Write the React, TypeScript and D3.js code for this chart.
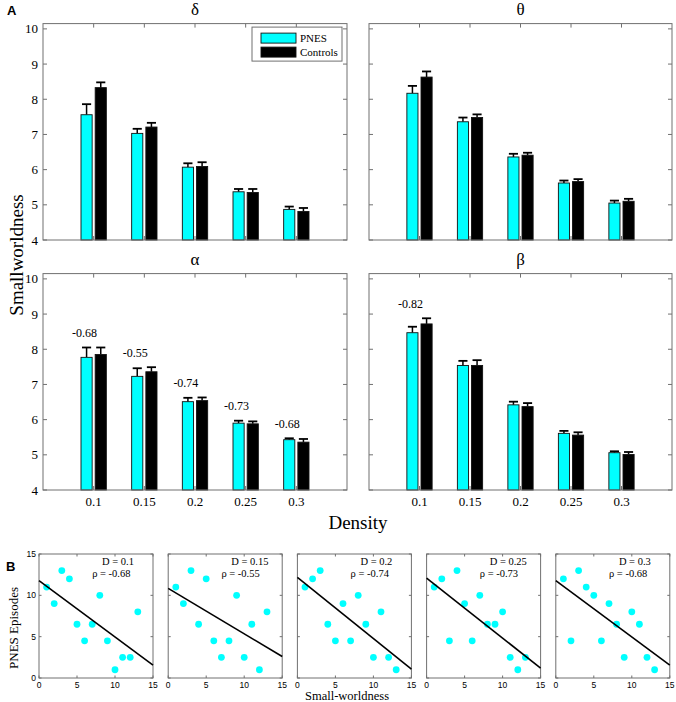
import React from 'react';
import * as d3 from 'd3';

// ---- bar chart data (panel A) ----
const bands = ['δ', 'θ', 'α', 'β'];
const densityLabels = ['0.1', '0.15', '0.2', '0.25', '0.3'];

const pnesMean = [
  [7.56, 7.03, 6.07, 5.37, 4.87],
  [8.17, 7.36, 6.36, 5.62, 5.05],
  [7.77, 7.23, 6.51, 5.9, 5.43],
  [8.47, 7.54, 6.42, 5.61, 5.06],
];
const pnesErr = [
  [0.3, 0.13, 0.11, 0.08, 0.08],
  [0.21, 0.12, 0.09, 0.07, 0.07],
  [0.28, 0.23, 0.11, 0.07, 0.04],
  [0.17, 0.13, 0.09, 0.07, 0.04],
];
const ctrlMean = [
  [8.33, 7.21, 6.09, 5.35, 4.81],
  [8.63, 7.48, 6.41, 5.66, 5.1],
  [7.85, 7.36, 6.54, 5.88, 5.36],
  [8.72, 7.54, 6.37, 5.56, 5.01],
];
const ctrlErr = [
  [0.15, 0.12, 0.12, 0.1, 0.1],
  [0.16, 0.09, 0.07, 0.07, 0.07],
  [0.2, 0.13, 0.09, 0.07, 0.09],
  [0.16, 0.15, 0.1, 0.08, 0.07],
];
const rhoLabels: (string | null)[][] = [
  [null, null, null, null, null],
  [null, null, null, null, null],
  ['-0.68', '-0.55', '-0.74', '-0.73', '-0.68'],
  ['-0.82', null, null, null, null],
];

// ---- scatter data (panel B) ----
const smallWorld = [1, 2, 3, 4, 5, 6, 7, 8, 9, 10, 11, 12, 13];
const episodes = [
  [11, 9, 13, 12, 6.5, 4.5, 6.5, 10, 4.5, 1, 2.5, 2.5, 8],
  [11, 9, 13, 6.5, 12, 4.5, 2.5, 4.5, 10, 2.5, 6.5, 1, 8],
  [11, 12, 13, 6.5, 4.5, 9, 4.5, 10, 6.5, 2.5, 8, 2.5, 1],
  [11, 12, 4.5, 13, 9, 4.5, 10, 6.5, 6.5, 8, 2.5, 1, 2.5],
  [12, 4.5, 13, 11, 10, 4.5, 9, 6.5, 2.5, 8, 6.5, 2.5, 1],
];
const densities = ['0.1', '0.15', '0.2', '0.25', '0.3'];
const rhos = ['-0.68', '-0.55', '-0.74', '-0.73', '-0.68'];
const scatterTicks = [0, 5, 10, 15];

const CYAN = '#00ffff';
const AXIS = '#707070';
const SERIF = "'Liberation Serif', 'Times New Roman', Times, 'DejaVu Serif', serif";
const SANS = "'Liberation Sans', Arial, Helvetica, sans-serif";

const serif = (size: number) => ({ fontFamily: SERIF, fontSize: size });
const sans = (size: number) => ({ fontFamily: SANS, fontSize: size });

function BarPanel({ idx, x0, x1, y0, y1, showY, showX, legend }: any) {
  const x = d3.scaleLinear().domain([0, 6]).range([x0, x1]);
  const y = d3.scaleLinear().domain([4, 10.15]).range([y1, y0]);
  const unit = x(1) - x(0);
  const bw = 0.22 * unit;
  const off = 0.14 * unit;
  const cap = 0.18 * unit;
  const groups = d3.range(1, 6);
  const yTicks = d3.range(4, 11);
  return (
    <g>
      <text x={(x0 + x1) / 2} y={y0 - 9} textAnchor="middle" style={serif(17)}>{bands[idx]}</text>
      {groups.map((g, i) => {
        const cx = x(g);
        const series = [
          { m: pnesMean[idx][i], e: pnesErr[idx][i], c: CYAN, dx: -off },
          { m: ctrlMean[idx][i], e: ctrlErr[idx][i], c: '#000', dx: off },
        ];
        return (
          <g key={g}>
            {series.map((s, j) => (
              <g key={j}>
                <line x1={cx + s.dx} x2={cx + s.dx} y1={y(s.m)} y2={y(s.m + s.e)} stroke="#000" strokeWidth={1.5} />
                <line x1={cx + s.dx - cap / 2} x2={cx + s.dx + cap / 2} y1={y(s.m + s.e)} y2={y(s.m + s.e)} stroke="#000" strokeWidth={1.8} />
                <rect x={cx + s.dx - bw / 2} y={y(s.m)} width={bw} height={y(4) - y(s.m)} fill={s.c} stroke="#111" strokeWidth={0.9} />
              </g>
            ))}
            {rhoLabels[idx][i] && (
              <text x={cx - 0.18 * unit} y={y(Math.max(pnesMean[idx][i] + pnesErr[idx][i], ctrlMean[idx][i] + ctrlErr[idx][i]) + 0.42)} dy="0.35em" textAnchor="middle" style={serif(12)}>{rhoLabels[idx][i]}</text>
            )}
          </g>
        );
      })}
      <rect x={x0} y={y0} width={x1 - x0} height={y1 - y0} fill="none" stroke={AXIS} strokeWidth={1} />
      {groups.map((g) => (
        <g key={'xt' + g}>
          <line x1={x(g)} x2={x(g)} y1={y1} y2={y1 - 4} stroke={AXIS} />
          <line x1={x(g)} x2={x(g)} y1={y0} y2={y0 + 4} stroke={AXIS} />
          {showX && (
            <text x={x(g)} y={y1 + 11} dy="0.35em" textAnchor="middle" style={serif(13)}>{densityLabels[g - 1]}</text>
          )}
        </g>
      ))}
      {yTicks.map((t) => (
        <g key={'yt' + t}>
          <line x1={x0} x2={x0 + 4} y1={y(t)} y2={y(t)} stroke={AXIS} />
          <line x1={x1} x2={x1 - 4} y1={y(t)} y2={y(t)} stroke={AXIS} />
          {showY && (
            <text x={x0 - 5} y={y(t)} dy="0.35em" textAnchor="end" style={serif(13)}>{t}</text>
          )}
        </g>
      ))}
      {legend && (
        <g>
          <rect x={x1 - 95} y={y0 + 3.5} width={90} height={34} fill="#fff" stroke={AXIS} strokeWidth={1} />
          <rect x={x1 - 86} y={y0 + 9.5} width={35} height={10} fill={CYAN} stroke="#111" strokeWidth={0.9} />
          <rect x={x1 - 86} y={y0 + 23.5} width={35} height={10} fill="#000" stroke="#111" strokeWidth={0.9} />
          <text x={x1 - 47} y={y0 + 14.5} dy="0.35em" style={serif(11)}>PNES</text>
          <text x={x1 - 47} y={y0 + 28.5} dy="0.35em" style={serif(11)}>Controls</text>
        </g>
      )}
    </g>
  );
}

function ScatterPanel({ idx, x0, x1, y0, y1, showY }: any) {
  const x = d3.scaleLinear().domain([0, 15]).range([x0, x1]);
  const y = d3.scaleLinear().domain([0, 15]).range([y1, y0]);
  const ys = episodes[idx];
  // least-squares fit line
  const mx = d3.mean(smallWorld) as number;
  const my = d3.mean(ys) as number;
  const sxy = d3.sum(smallWorld, (v, i) => (v - mx) * (ys[i] - my));
  const sxx = d3.sum(smallWorld, (v) => (v - mx) ** 2);
  const slope = sxy / sxx;
  const icpt = my - slope * mx;
  const line = d3.line<number>().x((v) => x(v)).y((v) => y(icpt + slope * v));
  return (
    <g>
      <rect x={x0} y={y0} width={x1 - x0} height={y1 - y0} fill="#fff" stroke={AXIS} strokeWidth={1} />
      {scatterTicks.map((t) => (
        <g key={t}>
          <line x1={x(t)} x2={x(t)} y1={y1} y2={y1 - 2.5} stroke={AXIS} />
          <line x1={x(t)} x2={x(t)} y1={y0} y2={y0 + 2.5} stroke={AXIS} />
          <line x1={x0} x2={x0 + 2.5} y1={y(t)} y2={y(t)} stroke={AXIS} />
          <line x1={x1} x2={x1 - 2.5} y1={y(t)} y2={y(t)} stroke={AXIS} />
          <text x={x(t)} y={y1 + 7} dy="0.35em" textAnchor="middle" style={sans(8.5)}>{t}</text>
          {showY && (
            <text x={x0 - 3} y={y(t)} dy="0.35em" textAnchor="end" style={sans(8.5)}>{t}</text>
          )}
        </g>
      ))}
      {smallWorld.map((v, i) => (
        <circle key={i} cx={x(v)} cy={y(ys[i])} r={3.4} fill={CYAN} />
      ))}
      <path d={line([0, 15]) as string} stroke="#000" strokeWidth={1.6} fill="none" />
      <text x={x(8.3)} y={y(14.1)} dy="0.35em" style={serif(10.5)}>D = {densities[idx]}</text>
      <text x={x(7)} y={y(12.7)} dy="0.35em" style={serif(10.5)}>ρ = {rhos[idx]}</text>
    </g>
  );
}

export default function App() {
  const W = 676;
  const H = 702;
  const cols = [
    [43, 347],
    [369, 672],
  ];
  const rows = [
    [23.6, 240],
    [273.6, 490],
  ];
  return (
    <div style={{ position: 'absolute', left: 0, top: 0 }}>
      <svg width={W} height={H} style={{ display: 'block', background: '#fff' }}>
        <text x={7} y={15} fontWeight="bold" style={sans(13)}>A</text>
        <text x={6} y={571} fontWeight="bold" style={sans(13)}>B</text>
        {bands.map((b, i) => {
          const c = cols[i % 2];
          const r = rows[Math.floor(i / 2)];
          return (
            <BarPanel key={b} idx={i} x0={c[0]} x1={c[1]} y0={r[0]} y1={r[1]}
              showY={i % 2 === 0} showX={i >= 2} legend={i === 0} />
          );
        })}
        <text x={0} y={0} transform="translate(16,255) rotate(-90)" textAnchor="middle" dy="0.35em" style={serif(19)}>Smallworldness</text>
        <text x={358} y={522} textAnchor="middle" dy="0.35em" style={serif(19)}>Density</text>
        {densities.map((d, i) => (
          <ScatterPanel key={d} idx={i} x0={39 + i * 129.2} x1={153 + i * 129.2} y0={554} y1={678} showY={i === 0} />
        ))}
        <text x={0} y={0} transform="translate(13,628) rotate(-90)" textAnchor="middle" dy="0.35em" style={serif(13)}>PNES Episodes</text>
        <text x={347} y={696} textAnchor="middle" dy="0.35em" style={serif(12.5)}>Small-worldness</text>
      </svg>
    </div>
  );
}
